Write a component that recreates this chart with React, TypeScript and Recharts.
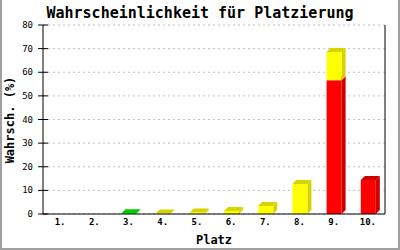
import { BarChart, Bar, XAxis, YAxis, CartesianGrid } from "recharts";

const places = ["1.", "2.", "3.", "4.", "5.", "6.", "7.", "8.", "9.", "10."];
const greenValues = [0, 0, 0.3, 0, 0, 0, 0, 0, 0, 0];
const yellowValues = [0, 0, 0, 0.2, 0.6, 1.3, 3.4, 12.7, 12, 0];
const redValues = [0, 0, 0, 0, 0, 0, 0, 0, 56.6, 14.4];
const yTicks = [0, 10, 20, 30, 40, 50, 60, 70, 80];

const data = places.map((place, i) => ({
  place,
  red: redValues[i],
  green: greenValues[i],
  yellow: yellowValues[i],
}));

const MONO = "'DejaVu Sans Mono', 'Liberation Mono', monospace";
const DEPTH = 4;

// bar with a fake 3d side and top, like the old jpgraph look
function Bar3D(props: any) {
  const { x, y, width, height, front, side } = props;
  if (!height || height <= 0) return null;
  const d = DEPTH;
  const right = x + width;
  const bottom = y + height;
  return (
    <g>
      <polygon
        points={`${right},${y} ${right + d},${y - d} ${right + d},${bottom - d} ${right},${bottom}`}
        fill={side}
      />
      <polygon
        points={`${x},${y} ${x + d},${y - d} ${right + d},${y - d} ${right},${y}`}
        fill={side}
      />
      <rect x={x} y={y} width={width} height={height} fill={front} />
    </g>
  );
}

function YTick(props: any) {
  const { x, y, payload } = props;
  return (
    <g>
      <line x1={x + 5} x2={x + 15} y1={y} y2={y} stroke="#000" />
      <text
        x={x}
        y={y}
        dy={3}
        textAnchor="end"
        fontFamily={MONO}
        fontSize={9}
        fill="#000"
      >
        {payload.value}
      </text>
    </g>
  );
}

export default function App() {
  return (
    <div
      style={{
        position: "relative",
        width: 400,
        height: 250,
        background: "#fff",
        overflow: "hidden",
      }}
    >
      <style>{`body{margin:0}`}</style>
      <div
        style={{
          position: "absolute",
          left: 0,
          top: 2,
          width: 400,
          textAlign: "center",
          fontFamily: MONO,
          fontWeight: "bold",
          fontSize: 15,
          lineHeight: "22px",
        }}
      >
        Wahrscheinlichkeit für Platzierung
      </div>
      <div
        style={{
          position: "absolute",
          left: 10,
          top: 119.5,
          transform: "translate(-50%, -50%) rotate(-90deg)",
          whiteSpace: "nowrap",
          fontFamily: MONO,
          fontWeight: "bold",
          fontSize: 12,
          lineHeight: "14px",
        }}
      >
        Wahrsch. (%)
      </div>
      <div
        style={{
          position: "absolute",
          left: 214,
          top: 240,
          transform: "translate(-50%, -50%)",
          whiteSpace: "nowrap",
          fontFamily: MONO,
          fontWeight: "bold",
          fontSize: 12,
          lineHeight: "14px",
        }}
      >
        Platz
      </div>
      <BarChart
        width={400}
        height={250}
        data={data}
        margin={{ top: 25, right: 0, bottom: 0, left: 0 }}
        barSize={15}
      >
        <CartesianGrid
          vertical={false}
          stroke="#c0c0c0"
          strokeDasharray="2 3"
        />
        <XAxis
          dataKey="place"
          height={36}
          tickLine={false}
          tickSize={0}
          tickMargin={5}
          axisLine={{ stroke: "#000" }}
          tick={{ fontFamily: MONO, fontSize: 9, fill: "#000", fontWeight: "bold" }}
        />
        <YAxis
          width={43}
          domain={[0, 80]}
          ticks={yTicks}
          tickLine={false}
          tickSize={0}
          tickMargin={10}
          axisLine={{ stroke: "#000" }}
          tick={<YTick />}
        />
        <YAxis
          yAxisId="r"
          orientation="right"
          width={15}
          domain={[0, 80]}
          tick={false}
          tickLine={false}
          axisLine={{ stroke: "#000" }}
        />
        <Bar
          dataKey="red"
          stackId="a"
          isAnimationActive={false}
          shape={(p: any) => <Bar3D {...p} front="#ff0000" side="#cc0000" />}
        />
        <Bar
          dataKey="green"
          stackId="a"
          isAnimationActive={false}
          shape={(p: any) => <Bar3D {...p} front="#00ee00" side="#00cc00" />}
        />
        <Bar
          dataKey="yellow"
          stackId="a"
          isAnimationActive={false}
          shape={(p: any) => <Bar3D {...p} front="#ffff00" side="#d4d400" />}
        />
      </BarChart>
      <div style={{ position: "absolute", left: 0, top: 0, width: 2, height: 250, background: "#a0a0a0" }} />
      <div style={{ position: "absolute", right: 0, top: 0, width: 2, height: 250, background: "#a0a0a0" }} />
      <div style={{ position: "absolute", left: 0, bottom: 0, width: 400, height: 2, background: "#a0a0a0" }} />
    </div>
  );
}
